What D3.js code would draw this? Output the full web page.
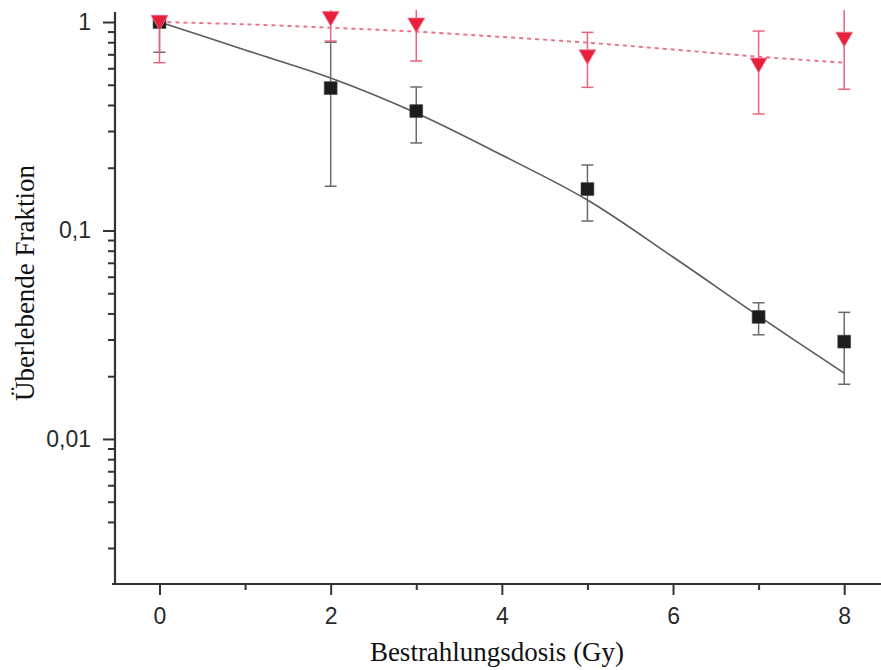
<!DOCTYPE html>
<html>
<head>
<meta charset="utf-8">
<script src="https://cdn.jsdelivr.net/npm/d3@7"></script>
<style>
  body { margin: 0; background: #fff; }
  svg { display: block; }
</style>
</head>
<body>
<svg id="chart" width="881" height="670"></svg>
<script>
// Dose points (Gy)
const doses = [0, 2, 3, 5, 7, 8];

// Series 1 (black squares): surviving fraction with error range
const controlMean = [1.0, 0.482, 0.374, 0.158, 0.0385, 0.0293];
const controlLow  = [0.716, 0.163, 0.263, 0.111, 0.0316, 0.0183];
const controlHigh = [1.07, 0.80, 0.488, 0.206, 0.045, 0.0405];

// Series 2 (red triangles): surviving fraction with error range
const treatedMean = [1.02, 1.065, 0.99, 0.697, 0.636, 0.847];
const treatedLow  = [0.638, 0.81, 0.65, 0.486, 0.362, 0.476];
const treatedHigh = [1.05, 1.4, 1.2, 0.892, 0.905, 1.3];

// Fitted survival curves
const fitDoses   = [0, 1, 2, 3, 4, 5, 6, 7, 8];
const controlFit = [1.0, 0.734, 0.539, 0.366, 0.230, 0.140, 0.0746, 0.0389, 0.0207];
const treatedFit = [1.0, 0.975, 0.939, 0.899, 0.848, 0.796, 0.738, 0.682, 0.638];

// Axis ticks
const xTicks = [0, 2, 4, 6, 8];
const xMinorTicks = [1, 3, 5, 7];
const yTicks = [1, 0.1, 0.01];
const yTickLabels = ["1", "0,1", "0,01"];

const svg = d3.select("#chart");

const x = d3.scaleLinear().domain([-0.555, 8.43]).range([112, 881]);
const y = d3.scaleLog().domain([0.002015, 1.117]).range([584, 12]);

const axisColor = "#333";
const tickFont = "'Liberation Sans', Arial, sans-serif";
const titleFont = "'Liberation Serif', 'Times New Roman', serif";

// Minor y ticks: 2..9 in every decade inside the domain
const yMinorTicks = [];
[0.001, 0.01, 0.1].forEach(d => {
  for (let k = 2; k <= 9; k++) {
    const v = +(d * k).toPrecision(3);
    if (v >= y.domain()[0] && v <= y.domain()[1]) yMinorTicks.push(v);
  }
});

function styleAxis(g) {
  g.selectAll("path.domain").remove();
  g.selectAll(".tick line").attr("stroke", axisColor).attr("stroke-width", 2);
  g.selectAll(".tick text")
    .attr("fill", "#2a2a2a")
    .style("font-family", tickFont)
    .style("font-size", "23px");
}

// Y axis (log)
const yAxisX = 115;
svg.append("g")
  .attr("transform", `translate(${yAxisX},0)`)
  .call(d3.axisLeft(y).tickValues(yMinorTicks).tickSize(7).tickFormat(""))
  .call(styleAxis);
svg.append("g")
  .attr("transform", `translate(${yAxisX},0)`)
  .call(d3.axisLeft(y).tickValues(yTicks).tickSize(12).tickPadding(12)
    .tickFormat((d, i) => yTickLabels[i]))
  .call(styleAxis);
svg.append("line")
  .attr("x1", yAxisX).attr("x2", yAxisX)
  .attr("y1", y.range()[1]).attr("y2", y.range()[0] + 1)
  .attr("stroke", axisColor).attr("stroke-width", 2.2);

// X axis
const xAxisY = 584;
svg.append("g")
  .attr("transform", `translate(0,${xAxisY})`)
  .call(d3.axisBottom(x).tickValues(xMinorTicks).tickSize(6).tickFormat(""))
  .call(styleAxis);
svg.append("g")
  .attr("transform", `translate(0,${xAxisY})`)
  .call(d3.axisBottom(x).tickValues(xTicks).tickSize(11).tickPadding(13)
    .tickFormat(d3.format("d")))
  .call(styleAxis);
svg.append("line")
  .attr("x1", x.range()[0]).attr("x2", x.range()[1])
  .attr("y1", xAxisY).attr("y2", xAxisY)
  .attr("stroke", axisColor).attr("stroke-width", 2.2);

// Axis titles
svg.append("text")
  .attr("transform", `translate(25,283) rotate(-90)`)
  .attr("text-anchor", "middle")
  .attr("dominant-baseline", "central")
  .style("font-family", titleFont)
  .style("font-size", "27px")
  .attr("fill", "#111")
  .text("Überlebende Fraktion");

svg.append("text")
  .attr("x", 497).attr("y", 661)
  .attr("text-anchor", "middle")
  .style("font-family", titleFont)
  .style("font-size", "27px")
  .attr("fill", "#111")
  .text("Bestrahlungsdosis (Gy)");

// Plot area clip
svg.append("defs").append("clipPath").attr("id", "plot-clip")
  .append("rect").attr("x", yAxisX).attr("y", 10).attr("width", 881 - yAxisX).attr("height", xAxisY - 10);

const plot = svg.append("g").attr("clip-path", "url(#plot-clip)");

const line = d3.line()
  .x(d => x(d[0]))
  .y(d => y(d[1]))
  .curve(d3.curveCatmullRom.alpha(0.5));

// Fitted curves
plot.append("path")
  .datum(fitDoses.map((d, i) => [d, controlFit[i]]))
  .attr("d", line)
  .attr("fill", "none")
  .attr("stroke", "#5a5a5a")
  .attr("stroke-width", 1.6);

plot.append("path")
  .datum(fitDoses.map((d, i) => [d, treatedFit[i]]))
  .attr("d", line)
  .attr("fill", "none")
  .attr("stroke", "#ea7088")
  .attr("stroke-width", 1.9)
  .attr("stroke-dasharray", "4,4");

// Error bars
function errorBars(mean, low, high, color) {
  const g = plot.append("g").attr("stroke", color).attr("stroke-width", 1.5);
  doses.forEach((d, i) => {
    const cx = x(d);
    g.append("line").attr("x1", cx).attr("x2", cx).attr("y1", y(low[i])).attr("y2", y(high[i]));
    g.append("line").attr("x1", cx - 6).attr("x2", cx + 6).attr("y1", y(low[i])).attr("y2", y(low[i]));
    g.append("line").attr("x1", cx - 6).attr("x2", cx + 6).attr("y1", y(high[i])).attr("y2", y(high[i]));
  });
}
errorBars(controlMean, controlLow, controlHigh, "#6a6a6a");
errorBars(treatedMean, treatedLow, treatedHigh, "#e8647e");

// Markers
const square = d3.symbol().type(d3.symbolSquare).size(165);
plot.append("g").selectAll("path")
  .data(doses.map((d, i) => [d, controlMean[i]]))
  .join("path")
  .attr("d", square)
  .attr("transform", d => `translate(${x(d[0])},${y(d[1])})`)
  .attr("fill", "#1c1c1c")
  .attr("stroke", "#444")
  .attr("stroke-width", 0.6);

const tri = d3.symbol().type(d3.symbolTriangle).size(125);
plot.append("g").selectAll("path")
  .data(doses.map((d, i) => [d, treatedMean[i]]))
  .join("path")
  .attr("d", tri)
  .attr("transform", d => `translate(${x(d[0])},${y(d[1])}) rotate(180)`)
  .attr("fill", "#e8203c")
  .attr("stroke", "#f27b95")
  .attr("stroke-width", 0.8);
</script>
</body>
</html>
